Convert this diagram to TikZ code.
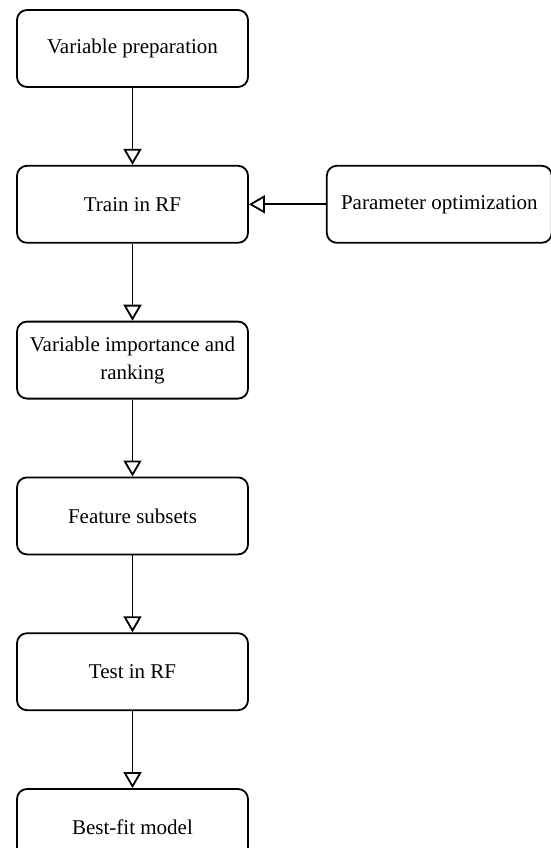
\documentclass[tikz,border=0pt]{standalone}
\usepackage{fontspec}
\setmainfont{Liberation Serif}
\usetikzlibrary{arrows.meta,positioning}

\begin{document}
\begin{tikzpicture}[x=1pt,y=-1pt,node distance=77pt,every node/.style={draw,line width=1.8pt,rounded corners=10pt,minimum width=231pt,minimum height=77pt,align=center,font=\fontsize{21}{28}\selectfont}]
      \useasboundingbox (0,0) rectangle (551,848);
      \node (prep) at (132.5,48.5) {Variable preparation};
      \node[below=of prep] (train) {Train in RF};
      \node[right=of train,minimum width=225pt] (param) {Parameter optimization};
      \node[below=of train] (rank) {Variable importance and\\ranking};
      \node[below=of rank] (subset) {Feature subsets};
      \node[below=of subset] (test) {Test in RF};
      \node[below=of test] (best) {Best-fit model};
      \draw[-{Triangle[open,length=16pt,width=18pt]},line width=1.8pt] (prep)--(train);
      \draw[-{Triangle[open,length=16pt,width=18pt]},line width=1.8pt] (param)--(train);
      \draw[-{Triangle[open,length=16pt,width=18pt]},line width=1.8pt] (train)--(rank);
      \draw[-{Triangle[open,length=16pt,width=18pt]},line width=1.8pt] (rank)--(subset);
      \draw[-{Triangle[open,length=16pt,width=18pt]},line width=1.8pt] (subset)--(test);
      \draw[-{Triangle[open,length=16pt,width=18pt]},line width=1.8pt] (test)--(best);
    \end{tikzpicture}
\end{document}
